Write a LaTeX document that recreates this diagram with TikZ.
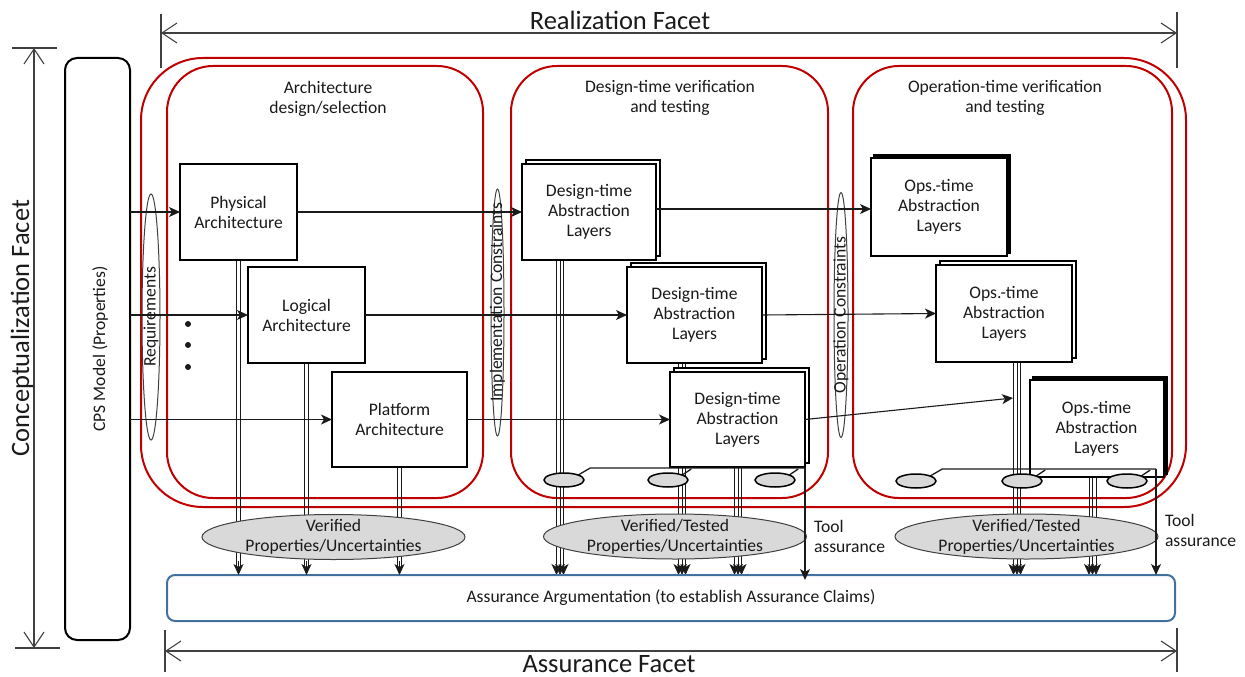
\documentclass[tikz,border=0pt]{standalone}
\usepackage{fontspec}
\setmainfont{Carlito}
\usetikzlibrary{arrows.meta,shapes.geometric,calc,shadows}
\definecolor{frame}{HTML}{C00000}
\definecolor{bubble}{HTML}{D9D9D9}
\definecolor{argue}{HTML}{41719C}
\definecolor{facet}{HTML}{404040}
\definecolor{ink}{HTML}{1A1A1A}
\pgfdeclarelayer{back}
\pgfsetlayers{back,main}

\begin{document}
\begin{tikzpicture}[x=1pt,y=-1pt,
  font=\fontsize{17.6}{20}\selectfont, text=ink,
  every node/.style={inner sep=0pt, outer sep=0pt},
  tip/.style={-{Stealth[length=11pt,width=10pt,inset=3pt]}},
  flow/.style={line width=1.1pt, draw=ink, tip},
  rail/.style={line width=0.8pt, draw=ink},
  wire/.style={line width=1.3pt, draw=ink},
  barbs/.style={{Straight Barb[length=15pt,width=20pt]}-{Straight Barb[length=15pt,width=20pt]}},
  facetline/.style={line width=1.1pt, draw=facet},
  redframe/.style={draw=frame, line width=2pt},
  archbox/.style={draw, line width=2pt, fill=white, align=center,
    minimum width=#1, minimum height=96},
  layerbox/.style={archbox=#1,
    copy shadow={shadow xshift=4pt, shadow yshift=4pt, draw=black, fill=white, line width=1.5pt}},
  opsbox/.style={archbox=#1,
    copy shadow={shadow xshift=3pt, shadow yshift=3pt, draw=black, fill=black, line width=2pt}},
  lens/.style={draw=facet, ellipse, line width=1pt, minimum width=#1},
  tool/.style={draw, ellipse, fill=bubble, line width=1.5pt, minimum width=40, minimum height=14},
  result/.style={draw=facet, ellipse, fill=bubble, line width=1pt, minimum width=263, minimum height=45},
  title/.style={font=\fontsize{26.5}{30}\selectfont}
]
\useasboundingbox (0,0) rectangle (1245,677);

% ---- facets ----
\draw[facetline] (161,14) -- (161,68);
\draw[facetline] (1177,12) -- (1177,68);
\draw[facetline, barbs] (161,33) -- (1177,33);
\node[title] at (620,20) {Realization Facet};

\draw[facetline] (12,48) -- (57,48);
\draw[facetline] (15,648) -- (60,648);
\draw[facetline, barbs] (34,48) -- (34,648);
\node[title, rotate=90] at (22,328) {Conceptualization Facet};

\draw[facetline] (165,630) -- (165,672);
\draw[facetline] (1177,628) -- (1177,672);
\draw[facetline, barbs] (165,651) -- (1177,651);
\node[title] at (609,664) {Assurance Facet};

% ---- CPS model ----
\node[draw, line width=2pt, rounded corners=12, minimum width=65, minimum height=582] (cps) at (97.5,349) {};
\node[rotate=90] at (100,349) {CPS Model (Properties)};

% ---- assurance argumentation ----
\node[draw=argue, line width=2pt, rounded corners=8, minimum width=1008, minimum height=46] (assure) at (671,598)
  {Assurance Argumentation (to establish Assurance Claims)};

% ---- architecture boxes ----
\node[archbox=117] (phys) at (238.5,212) {Physical\\Architecture};
\node[archbox=117] (logi) at (306.5,315) {Logical\\Architecture};
\node[archbox=135, minimum height=95] (plat) at (399.5,419.5) {Platform\\Architecture};

% ---- design-time abstraction layers ----
\node[layerbox=134] (d1) at (589,212) {Design-time\\Abstraction\\Layers};
\node[layerbox=135] (d2) at (694.5,315) {Design-time\\Abstraction\\Layers};
\node[layerbox=135, minimum height=95] (d3) at (737.5,419.5) {Design-time\\Abstraction\\Layers};

% ---- operation-time abstraction layers ----
\node[opsbox=136, minimum height=98] (o1) at (939,207) {Ops.-time\\Abstraction\\Layers};
\node[layerbox=136, minimum height=97] (o2) at (1004,313.5) {Ops.-time\\Abstraction\\Layers};
\node[opsbox=134, minimum height=97] (o3) at (1096.5,428.5) {Ops.-time\\Abstraction\\Layers};

\begin{pgfonlayer}{back}
  % activity frames
  \draw[redframe, rounded corners=62] (141,58) rectangle (1186,507);
  \draw[redframe, rounded corners=46] (167,66) rectangle (483,498);
  \draw[redframe, rounded corners=46] (511,66) rectangle (828,498);
  \draw[redframe, rounded corners=46] (853,66) rectangle (1172,498);
  % double rails from the architecture views
  \foreach \n in {phys,logi,plat}
    \foreach \dx in {-1.8,1.8}
      \draw[rail] ($(\n.south)+(\dx,0)$) -- ($(\n.south |- assure.north)+(\dx,-6)$);
  % triple rails from the abstraction layers
  \foreach \n/\off in {d1/38,d2/55,d3/68,o2/81,o3/63}
    \foreach \dx in {-3.5,0,3.5}
      \draw[rail, tip] ($(\n.south west)+(\off+\dx,0)$) -- ($(\n.south west |- assure.north)+(\off+\dx,0)$);
\end{pgfonlayer}

\foreach \n in {phys,logi,plat}
  \draw[flow] ($(\n.south |- assure.north)+(0,-14)$) -- (\n.south |- assure.north);

% ---- lenses between the activities ----
\node[lens=18, minimum height=246] (req) at (151,317) {};
\node[rotate=90] at (req) {Requirements};
\node[lens=13, minimum height=247] (impl) at (497.5,312.5) {};
\node[rotate=90] at (497.5,302) {Implementation Constraints};
\node[lens=14, minimum height=245] (oper) at (841,315) {};
\node[rotate=90] at (oper) {Operation Constraints};

% ---- activity titles ----
\node[align=center] at (328,99) {Architecture\\design/selection};
\node[align=center] at (670,98) {Design-time verification\\and testing};
\node[align=center] at (1005,98) {Operation-time verification\\and testing};

% ---- further views ----
\foreach \y in {324,345,367} \fill[ink] (188,\y) circle (3pt);

% ---- flows ----
\draw[flow] (cps.east |- phys.west) -- (phys.west);
\draw[flow] (cps.east |- logi.west) -- (logi.west);
\draw[flow] (cps.east |- plat.west) -- (plat.west);
\draw[flow] (phys.east) -- (d1.west);
\draw[flow] (logi.east) -- (d2.west);
\draw[flow] (plat.east) -- (d3.west);
\coordinate (d1out) at ([yshift=3pt]d1.east);
\draw[flow] (d1out) -- (o1.west |- d1out);
\draw[flow] (d2.east) -- (o2.west);
\coordinate (o2rail) at (1013,398);
\draw[flow] (d3.east) -- (o2rail);

% ---- verification results ----
\node[result] (v1) at (333.5,537) {};
\node[align=center] at (v1) {Verified\\Properties/Uncertainties};
\node[result] (v2) at (675,536.5) {};
\node[align=center] at (v2) {Verified/Tested\\Properties/Uncertainties};
\node[result] (v3) at (1026.5,536.5) {};
\node[align=center] at (v3) {Verified/Tested\\Properties/Uncertainties};

% ---- tools and tool assurance ----
\node[tool] (dt1) at (564,480) {};
\node[tool] (dt2) at (668,480) {};
\node[tool] (dt3) at (775,480) {};
\coordinate (dtool) at (805,468);
\draw[wire] (dt1.north east) -- ++(12,-7) -- (dtool);
\draw[wire] (dt2.north east) -- ++(9,-6);
\draw[wire] (dt3.north east) -- ++(9,-6);
\draw[wire, tip] (dtool) -- ($(dtool |- assure.north)+(0,5)$);
\node[align=left, anchor=west] at (814,536) {Tool\\assurance};

\node[tool] (ot1) at (916,481) {};
\node[tool] (ot2) at (1022,481) {};
\node[tool] (ot3) at (1127,481) {};
\coordinate (otool) at (1156,469);
\draw[wire] (ot1.north east) -- ++(12,-7) -- (otool);
\draw[wire] (ot2.north east) -- ++(9,-6);
\draw[wire] (ot3.north east) -- ++(9,-6);
\draw[wire, tip] (otool) -- (otool |- assure.north);
\node[align=left, anchor=west] at (1165,530) {Tool\\assurance};
\end{tikzpicture}
\end{document}
